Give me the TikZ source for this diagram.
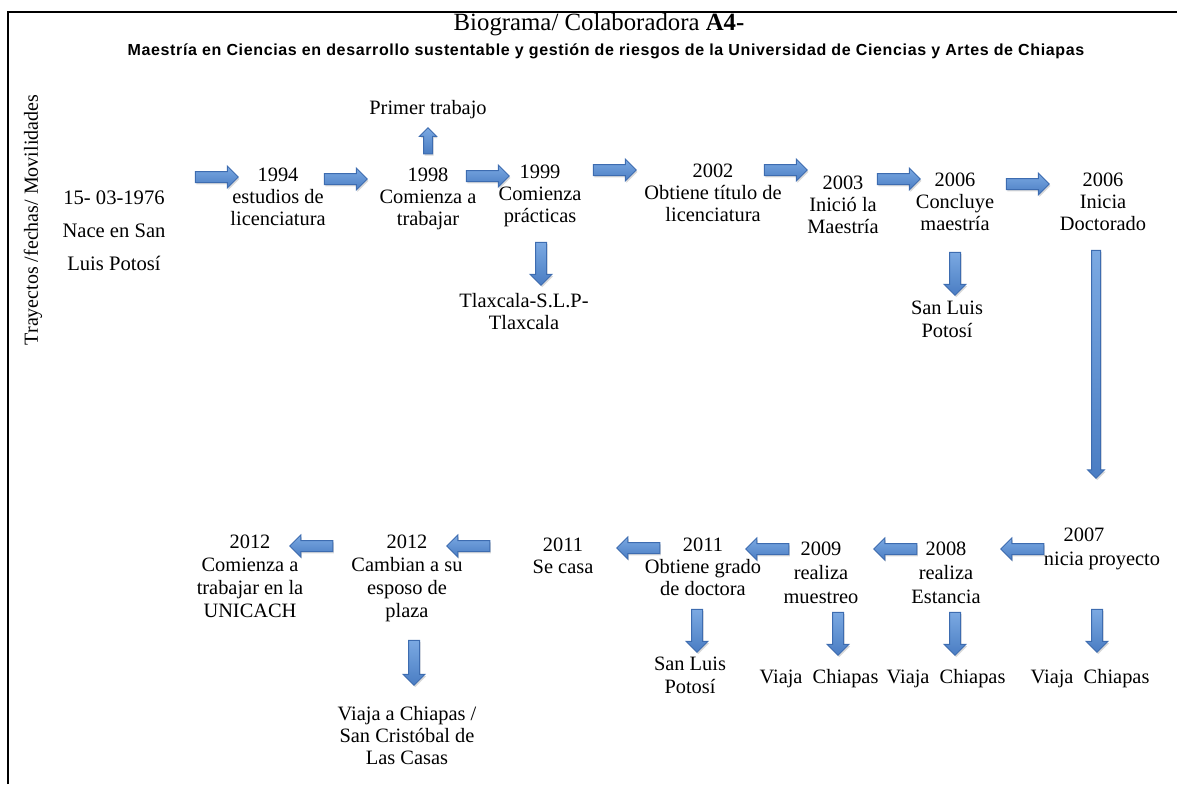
\documentclass[tikz,border=0pt]{standalone}
\usepackage{fontspec}
\setmainfont{Liberation Serif}
\newfontfamily\subfont[LetterSpace=4]{Liberation Sans}
\usetikzlibrary{shapes.arrows,shadows,positioning}

\definecolor{arrowlight}{HTML}{7BA9E2}
\definecolor{arrowdark}{HTML}{4A7DC3}
\definecolor{arrowline}{HTML}{3D6CB0}

\tikzset{
  event/.style={align=center, inner sep=0pt, anchor=north,
    font=\fontsize{10.2}{11}\selectfont},
  blkarrow/.style={single arrow, draw=arrowline, line width=0.5pt,
    top color=arrowlight, bottom color=arrowdark,
    inner xsep=0pt, inner ysep=2.5pt, single arrow head extend=2.75pt,
    minimum height=21.5pt,
    drop shadow={shadow xshift=0.6pt, shadow yshift=-0.9pt, opacity=0.3}},
  rarr/.style={blkarrow},
  larr/.style={blkarrow, rotate=180},
  darr/.style={blkarrow, rotate=-90},
  uarr/.style={blkarrow, rotate=90, inner ysep=2pt,
    single arrow head extend=2pt, minimum height=13pt},
}

\begin{document}
\begin{tikzpicture}[x=0.5pt, y=-0.5pt]
  \useasboundingbox (0,0) rectangle (1177,784);
  \draw[line width=1pt] (8,784) -- (8,12) -- (1177,12);

  % title
  \node (title) at (599,25) {\fontsize{12.4}{13}\selectfont Biograma/ Colaboradora \textbf{A4-}};
  \node (subtitle) at (606,51) {\subfont\bfseries\fontsize{8}{9}\selectfont
    Maestría en Ciencias en desarrollo sustentable y gestión de riesgos de la Universidad de Ciencias y Artes de Chiapas};
  \node[rotate=90, font=\fontsize{10}{12}\selectfont] (side) at (33,220) {Trayectos /fechas/ Movilidades};

  % upper row
  \node[event, font=\fontsize{10.3}{16.5}\selectfont] (n1976) at (114,190) {15- 03-1976\\Nace en San\\Luis Potosí};
  \node[event] (n1994)  at (278,168) {1994\\estudios de\\licenciatura};
  \node[event] (primer) at (428,100) {Primer trabajo};
  \node[event] (n1998)  at (428,168) {1998\\Comienza a\\trabajar};
  \node[event] (n1999)  at (540,165) {1999\\Comienza\\prácticas};
  \node[event] (tlax)   at (524,293) {Tlaxcala-S.L.P-\\Tlaxcala};
  \node[event] (n2002)  at (713,164) {2002\\Obtiene título de\\licenciatura};
  \node[event] (n2003)  at (843,176) {2003\\Inició la\\Maestría};
  \node[event] (n2006a) at (955,173) {2006\\Concluye\\maestría};
  \node[event, font=\fontsize{10.2}{11.5}\selectfont] (slp1) at (947,301) {San Luis\\Potosí};
  \node[event] (n2006b) at (1103,173) {2006\\Inicia\\Doctorado};

  % lower row
  \node[event, font=\fontsize{10.2}{11.6}\selectfont] (n2007) at (1102,528) {2007\hspace*{18pt}\\nicia proyecto};
  \node[event, font=\fontsize{10.2}{11.8}\selectfont] (n2008) at (946,542) {2008\\realiza\\Estancia};
  \node[event, font=\fontsize{10.2}{11.8}\selectfont] (n2009) at (821,542) {2009\\realiza\\muestreo};
  \node[event] (n2011a) at (703,538) {2011\\Obtiene grado\\de doctora};
  \node[event, font=\fontsize{10.2}{11.5}\selectfont] (slp2) at (690,657) {San Luis\\Potosí};
  \node[event] (n2011b) at (563,538) {2011\\Se casa};
  \node[event, font=\fontsize{10.2}{11.5}\selectfont] (n2012a) at (407,535) {2012\\Cambian a su\\esposo de\\plaza};
  \node[event] (viaja)  at (407,706) {Viaja a Chiapas /\\San Cristóbal de\\Las Casas};
  \node[event, font=\fontsize{10.2}{11.5}\selectfont] (n2012b) at (250,535) {2012\\Comienza a\\trabajar en la\\UNICACH};
  \node[event] (vc1) at (1090,669) {Viaja\ \ Chiapas};
  \node[event] (vc2) at (946,669) {Viaja\ \ Chiapas};
  \node[event] (vc3) at (819,669) {Viaja\ \ Chiapas};

  % arrows upper row
  \node[rarr] (a1) at (214,177) {};
  \node[rarr] (a2) at (343,179) {};
  \node[rarr] (a3) at (485,176) {};
  \node[rarr] (a4) at (612,170) {};
  \node[rarr] (a5) at (783,170) {};
  \node[rarr] (a6) at (896,179) {};
  \node[rarr] (a7) at (1025,184) {};
  \node[uarr] (up1) at (428,143) {};
  \node[darr] (d1) at (541,261) {};
  \node[darr] (d2) at (955,271) {};
  \node[darr, inner ysep=2pt, single arrow head extend=2pt, minimum height=114pt] (dlong) at (1096,362) {};

  % arrows lower row
  \node[larr] (b1) at (1025,549) {};
  \node[larr] (b2) at (898,549) {};
  \node[larr] (b3) at (770,549) {};
  \node[larr] (b4) at (641,548) {};
  \node[larr] (b5) at (471,546) {};
  \node[larr] (b6) at (314,546) {};
  \node[darr] (d3) at (1097,628) {};
  \node[darr] (d4) at (955,631) {};
  \node[darr] (d5) at (838,631) {};
  \node[darr] (d6) at (697,628) {};
  \node[darr, minimum height=22.5pt] (d7) at (414,660) {};
\end{tikzpicture}
\end{document}
